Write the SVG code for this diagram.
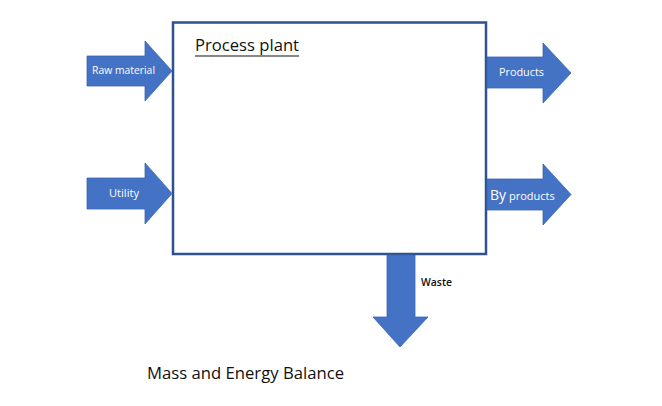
<svg xmlns="http://www.w3.org/2000/svg" width="662" height="406" viewBox="0 0 662 406">
<style>
.arrow{fill:#4472C4;stroke:#3A66B5;stroke-width:0.8}
.lbl{font-family:"Open Sans","Liberation Sans",sans-serif;fill:#FFFFFF}
.dark{font-family:"Open Sans","Liberation Sans",sans-serif;fill:#111111}
</style>
<rect width="662" height="406" fill="#FFFFFF"/>
<g id="process-plant">
<rect x="173" y="22.5" width="313" height="231.5" fill="#FFFFFF" stroke="#2F528F" stroke-width="2.5"/>
<text class="dark" x="195" y="51" font-size="16" textLength="104" lengthAdjust="spacingAndGlyphs">Process plant</text>
<line x1="195" y1="56" x2="299" y2="56" stroke="#111111" stroke-width="1.2"/>
</g>
<g id="connectors">
<g id="raw-material">
<polygon class="arrow" points="87,56 145,56 145,41 172,71 145,101 145,86 87,86"/>
<text class="lbl" x="92" y="74" font-size="10" textLength="63" lengthAdjust="spacingAndGlyphs">Raw material</text>
</g>
<g id="utility">
<polygon class="arrow" points="87,178 145,178 145,163 172,193.5 145,224 145,209 87,209"/>
<text class="lbl" x="109" y="197" font-size="11" textLength="30" lengthAdjust="spacingAndGlyphs">Utility</text>
</g>
<g id="products">
<polygon class="arrow" points="487,57 543,57 543,43 571,73 543,103 543,88 487,88"/>
<text class="lbl" x="499" y="76" font-size="11" textLength="45" lengthAdjust="spacingAndGlyphs">Products</text>
</g>
<g id="by-products">
<polygon class="arrow" points="487,179 543,179 543,164 571,194.5 543,225 543,210 487,210"/>
<text class="lbl" x="490" y="200" font-size="11"><tspan font-size="14">By</tspan> products</text>
</g>
<g id="waste">
<polygon class="arrow" points="387,255 415,255 415,317 428,317 400,347 373,317 387,317"/>
<text class="dark" x="421" y="286" font-size="11" font-weight="600" textLength="31" lengthAdjust="spacingAndGlyphs">Waste</text>
</g>
</g>
<text class="dark" x="147" y="379" font-size="16" textLength="197" lengthAdjust="spacingAndGlyphs">Mass and Energy Balance</text>
</svg>
